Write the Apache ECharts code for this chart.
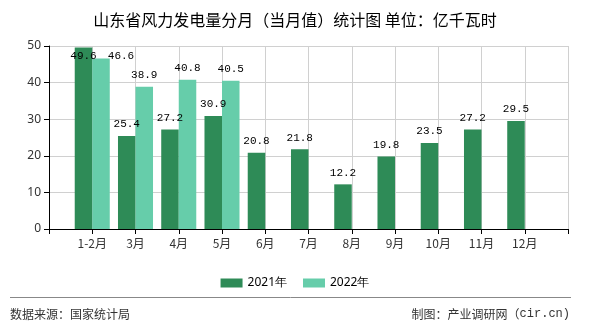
<!DOCTYPE html>
<html>
<head>
<meta charset="utf-8">
<script src="https://cdn.jsdelivr.net/npm/echarts@6/dist/echarts.min.js"></script>
<style>
html,body{margin:0;padding:0;background:#fff;}
#c{width:590px;height:330px;}
</style>
</head>
<body>
<div id="c"></div>
<script>
const categories = ['1-2月','3月','4月','5月','6月','7月','8月','9月','10月','11月','12月'];
const values2021 = [49.6,25.4,27.2,30.9,20.8,21.8,12.2,19.8,23.5,27.2,29.5];
const values2022 = [46.6,38.9,40.8,40.5,null,null,null,null,null,null,null];
const seriesNames = ['2021年','2022年'];
const yTicks = {min:0, max:50, interval:10};

const axisCats = [''].concat(categories, ['']);
function pad(arr){ return [null].concat(arr, [null]); }

const labelFont = {fontFamily:'Liberation Mono', fontSize:11, color:'#000'};

const d2021 = pad(values2021).map((v,i)=>{
  if (i===1) return {value:v, label:{position:'insideTop', distance:3}};
  return v;
});
const d2022 = pad(values2022).map((v,i)=>{
  if (i===1) return {value:v, label:{offset:[20,9]}};
  return v;
});

const chart = echarts.init(document.getElementById('c'), null, {renderer:'canvas'});
chart.setOption({
  animation:false,
  backgroundColor:'#fff',
  title:{
    text:'山东省风力发电量分月（当月值）统计图 单位：亿千瓦时',
    left:'center', top:7,
    textStyle:{fontFamily:'Noto Sans CJK SC', fontSize:16, fontWeight:'normal', color:'#000'}
  },
  grid:{left:49, right:22, top:46, bottom:101},
  legend:{
    data:seriesNames,
    left:'center', top:272,
    itemWidth:22, itemHeight:9, itemGap:16,
    textStyle:{fontFamily:'Noto Sans', fontSize:12, color:'#000'},
    icon:'rect'
  },
  xAxis:{
    type:'category',
    data:axisCats,
    boundaryGap:false,
    axisLine:{lineStyle:{color:'#000', width:1}},
    axisTick:{show:true, interval:0, length:5, lineStyle:{color:'#000'}},
    axisLabel:{interval:0, fontFamily:'Noto Sans CJK SC', fontSize:12, color:'#333', margin:8},
    splitLine:{show:true, interval:0, lineStyle:{color:'#d0d0d0'}}
  },
  yAxis:{
    type:'value',
    min:yTicks.min, max:yTicks.max, interval:yTicks.interval,
    axisLine:{show:true, lineStyle:{color:'#000'}},
    axisTick:{show:true, length:5, lineStyle:{color:'#000'}},
    axisLabel:{fontFamily:'Noto Sans', fontSize:12, color:'#333', margin:8},
    splitLine:{show:true, lineStyle:{color:'#d0d0d0'}}
  },
  series:[
    {
      name:seriesNames[0], type:'bar', data:d2021,
      barGap:'0%', barCategoryGap:'19%',
      itemStyle:{color:'#2e8b57'},
      label:Object.assign({show:true, position:'top', distance:6}, labelFont)
    },
    {
      name:seriesNames[1], type:'bar', data:d2022,
      barGap:'0%', barCategoryGap:'19%',
      itemStyle:{color:'#66cdaa'},
      label:Object.assign({show:true, position:'top', distance:6}, labelFont)
    }
  ],
  graphic:[
    {type:'line', shape:{x1:10, y1:297.5, x2:571, y2:297.5}, style:{stroke:'#888', lineWidth:1}},
    {type:'text', left:10, top:308, style:{text:'数据来源：国家统计局', font:'12px "Noto Sans CJK SC"', fill:'#333'}},
    {type:'text', right:20, top:308, style:{
      text:'{a|制图：产业调研网（}{b|cir.cn)}',
      rich:{
        a:{fontFamily:'Noto Sans CJK SC', fontSize:12, fill:'#333', color:'#333'},
        b:{fontFamily:'Liberation Mono', fontSize:12, fill:'#333', color:'#333'}
      }
    }}
  ]
});
</script>
</body>
</html>
